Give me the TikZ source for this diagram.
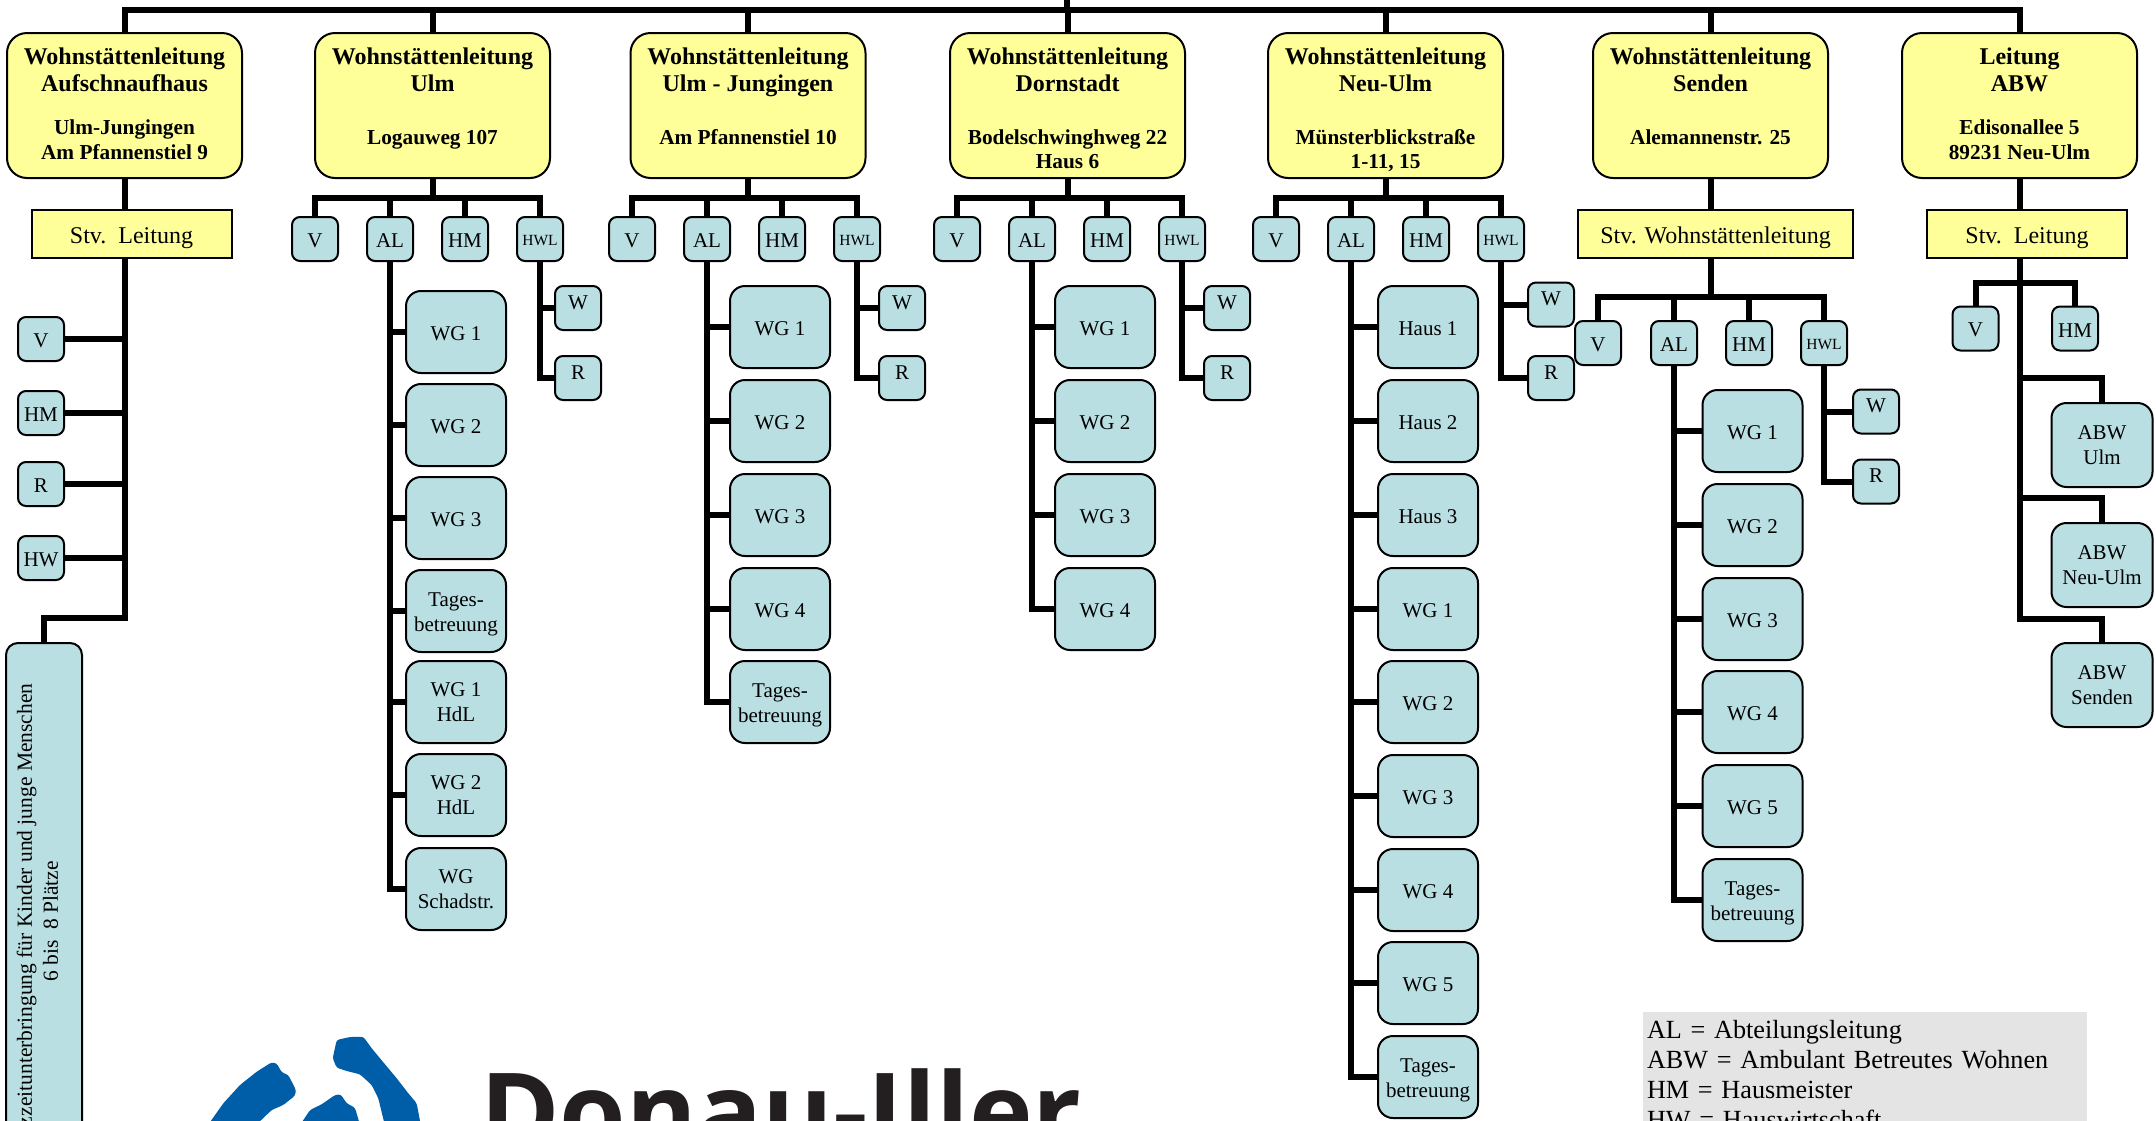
\documentclass[tikz,border=0pt]{standalone}
\usepackage{fontspec}
\setmainfont{Liberation Serif}
\newfontfamily\logofont{Open Sans}
\definecolor{topyellow}{HTML}{FFFF99}
\definecolor{boxblue}{HTML}{BADFE3}
\definecolor{legendgray}{HTML}{E4E4E4}
\definecolor{logoblue}{HTML}{005EA8}
\definecolor{logodark}{HTML}{231F20}
\pgfdeclarelayer{bg}
\pgfsetlayers{bg,main}
\tikzset{
  conn/.style={draw=black,line width=6pt,line cap=rect,line join=miter},
  topbox/.style={draw=black,fill=topyellow,line width=2pt,rounded corners=20pt,minimum width=235pt,minimum height=145pt,inner sep=0pt,outer sep=0pt},
  stvbox/.style={draw=black,fill=topyellow,line width=2pt,minimum height=48pt,inner sep=0pt,outer sep=0pt,font=\fontsize{24}{27}\selectfont,execute at begin node={\rule{0pt}{24pt}}},
  smallbox/.style={draw=black,fill=boxblue,line width=2pt,rounded corners=8pt,minimum width=46pt,minimum height=44pt,inner sep=0pt,outer sep=0pt,font=\fontsize{21}{25}\selectfont,execute at begin node={\rule{0pt}{17pt}}},
  tinytext/.style={font=\fontsize{15.5}{18}\selectfont,execute at begin node={}},
  wgbox/.style={draw=black,fill=boxblue,line width=2pt,rounded corners=15pt,minimum width=100pt,minimum height=82pt,inner sep=0pt,outer sep=0pt,align=center,font=\fontsize{21}{25}\selectfont,execute at begin node={\rule{0pt}{17pt}}},
  abwbox/.style={wgbox,minimum width=101pt,minimum height=84pt,execute at begin node={}},
  legendbox/.style={fill=legendgray,anchor=north west,text width=436pt,inner xsep=4pt,inner ysep=8pt,outer sep=0pt,align=left,font=\fontsize{26.2}{30}\selectfont},
  logotext/.style={anchor=base west,inner sep=0pt,text=logodark,font=\logofont\bfseries\fontsize{107.7}{110}\selectfont},
  logoshape/.style={fill=logoblue,rounded corners=2.5pt}
}
% title, gap, baseline skip of the address, address
\newcommand{\toplabel}[4]{\parbox[c][145pt][t]{230pt}{\centering\bfseries\vspace*{15.3pt}\fontsize{24}{27}\selectfont #1\par\vspace{#2}\fontsize{21.3}{#3}\selectfont #4\par}}
\newcommand{\up}[1]{\raisebox{7.5pt}[0pt]{#1}}
\newcommand{\tagesname}{\rule{0pt}{20pt}Tages-\\betreuung}
\begin{document}
\begin{tikzpicture}[x=1pt,y=-1pt]
\useasboundingbox (0,0) rectangle (2156,1120);
\clip (0,0) rectangle (2156,1120);
% leadership boxes
\node[topbox] (t1) at (124.5,105.5) {\toplabel{Wohnstättenleitung\\Aufschnaufhaus}{18pt}{25}{Ulm-Jungingen\\Am Pfannenstiel 9}};
\node[topbox] (t2) at (432.5,105.5) {\toplabel{Wohnstättenleitung\\Ulm}{29pt}{24}{Logauweg 107}};
\node[topbox] (t3) at (748,105.5) {\toplabel{Wohnstättenleitung\\Ulm - Jungingen}{29pt}{24}{Am Pfannenstiel 10}};
\node[topbox] (t4) at (1067.5,105.5) {\toplabel{Wohnstättenleitung\\Dornstadt}{29pt}{24}{Bodelschwinghweg 22\\Haus 6}};
\node[topbox] (t5) at (1385.5,105.5) {\toplabel{Wohnstättenleitung\\Neu-Ulm}{29pt}{24}{Münsterblickstraße\\1-11, 15}};
\node[topbox] (t6) at (1710.5,105.5) {\toplabel{Wohnstättenleitung\\Senden}{29pt}{24}{Alemannenstr. 25}};
\node[topbox] (t7) at (2019.5,105.5) {\toplabel{Leitung\\ABW}{18pt}{25}{Edisonallee 5\\89231 Neu-Ulm}};
% deputies
\node[stvbox,minimum width=200pt] (s1) at (131.5,234) {Stv.~~Leitung};
\node[stvbox,minimum width=275pt] (s6) at (1715.5,234) {Stv. Wohnstättenleitung};
\node[stvbox,minimum width=200pt] (s7) at (2027,234) {Stv.~~Leitung};
% left column
\node[smallbox] (lV) at (41,339) {V};
\node[smallbox] (lHM) at (41,413) {HM};
\node[smallbox] (lR) at (41,484) {R};
\node[smallbox] (lHW) at (41,558) {HW};
\node[wgbox,rounded corners=12pt,minimum width=76pt,minimum height=557pt,execute at begin node={},font=\fontsize{21.5}{25}\selectfont] (kz) at (44,921.5) {\rotatebox{90}{\parbox{520pt}{\centering Kurzzeitunterbringung für Kinder und junge Menschen\\[1pt] 6 bis~~8 Plätze\vspace{13pt}}}};
% columns of small boxes
\foreach \c/\v/\a/\h/\w/\wx/\wy/\ry/\cy in {2/315/390/465/540/578/308/378/239,3/632/707/782/857/902/308/378/239,4/957/1032/1107/1182/1227/308/378/239,5/1276/1351/1426/1501/1551/304.5/378/239,6/1598/1674/1749/1824/1876/411.5/481.5/343}{
  \node[smallbox] (c\c V) at (\v,\cy) {V};
  \node[smallbox] (c\c AL) at (\a,\cy) {AL};
  \node[smallbox] (c\c HM) at (\h,\cy) {HM};
  \node[smallbox,tinytext] (c\c HWL) at (\w,\cy) {\raisebox{2pt}[10.5pt]{HWL}};
  \node[smallbox] (c\c W) at (\wx,\wy) {\up{W}};
  \node[smallbox] (c\c R) at (\wx,\ry) {\up{R}};
}
% Ulm
\node[wgbox] (c2a) at (456,332) {WG 1};
\node[wgbox] (c2b) at (456,425) {WG 2};
\node[wgbox] (c2c) at (456,518) {WG 3};
\node[wgbox] (c2d) at (456,611) {\tagesname};
\node[wgbox] (c2e) at (456,702) {WG 1\\HdL};
\node[wgbox] (c2f) at (456,795) {WG 2\\HdL};
\node[wgbox] (c2g) at (456,889) {WG\\Schadstr.};
% Ulm - Jungingen
\node[wgbox] (c3a) at (780,327) {WG 1};
\node[wgbox] (c3b) at (780,421) {WG 2};
\node[wgbox] (c3c) at (780,515) {WG 3};
\node[wgbox] (c3d) at (780,609) {WG 4};
\node[wgbox] (c3e) at (780,702) {\tagesname};
% Dornstadt
\node[wgbox] (c4a) at (1105,327) {WG 1};
\node[wgbox] (c4b) at (1105,421) {WG 2};
\node[wgbox] (c4c) at (1105,515) {WG 3};
\node[wgbox] (c4d) at (1105,609) {WG 4};
% Neu-Ulm
\node[wgbox] (c5a) at (1428,327) {Haus 1};
\node[wgbox] (c5b) at (1428,421) {Haus 2};
\node[wgbox] (c5c) at (1428,515) {Haus 3};
\node[wgbox] (c5d) at (1428,609) {WG 1};
\node[wgbox] (c5e) at (1428,702) {WG 2};
\node[wgbox] (c5f) at (1428,796) {WG 3};
\node[wgbox] (c5g) at (1428,890) {WG 4};
\node[wgbox] (c5h) at (1428,983) {WG 5};
\node[wgbox] (c5i) at (1428,1077) {\tagesname};
% Senden
\node[wgbox] (c6a) at (1752.5,431) {WG 1};
\node[wgbox] (c6b) at (1752.5,525) {WG 2};
\node[wgbox] (c6c) at (1752.5,619) {WG 3};
\node[wgbox] (c6d) at (1752.5,712) {WG 4};
\node[wgbox] (c6e) at (1752.5,806) {WG 5};
\node[wgbox] (c6f) at (1752.5,900) {\tagesname};
% ABW
\node[smallbox] (c7V) at (1975.5,328.5) {V};
\node[smallbox] (c7HM) at (2075,328.5) {HM};
\node[abwbox] (c7a) at (2102,445) {ABW\\Ulm};
\node[abwbox] (c7b) at (2102,565) {ABW\\Neu-Ulm};
\node[abwbox] (c7c) at (2102,685) {ABW\\Senden};
% legend
\node[legendbox] (legend) at (1643,1012) {AL = Abteilungsleitung\\ABW = Ambulant Betreutes Wohnen\\HM = Hausmeister\\HW = Hauswirtschaft};
% logo
\fill[logoshape] (336.7,1040) -- (350,1037) -- (363.3,1036.7) -- (371.7,1048.3) -- (380,1058.3) -- (396.7,1078.3) -- (408.3,1093.3) -- (416.7,1103.3) -- (421.7,1130) -- (386,1130) -- (378.3,1098.3) -- (371.7,1085) -- (360,1074.3) -- (346.7,1071) -- (336.7,1067.7) -- (332.7,1058.3) -- cycle;
\fill[logoshape] (271.7,1062.3) -- (276.7,1063.3) -- (281.7,1072.3) -- (288.3,1075) -- (296,1090) -- (295,1095.7) -- (283.3,1105) -- (271.7,1110) -- (256,1125) -- (208,1125) -- (223.3,1103.3) -- (240,1085) -- (256.7,1071.7) -- cycle;
\fill[logoshape] (300,1125) -- (310,1110) -- (321.7,1104.3) -- (335,1095) -- (340.7,1094.3) -- (346.7,1103.3) -- (355,1107.7) -- (360,1125) -- cycle;
\node[logotext] (logoname) at (480,1150) {Donau-Iller};
% connectors
\begin{pgfonlayer}{bg}
\coordinate (root) at (1067,0);
\coordinate (bar) at (1067,10);
\draw[conn] (t1.north) |- (bar) -| (t7.north);
\draw[conn] (root) -- (bar);
\foreach \n in {2,...,6} {\draw[conn] (t\n.north) -- (t\n.north |- bar);}
% left column
\coordinate (k1) at (124.5,618);
\draw[conn] (t1.south) -- (k1) -| (kz.north);
\foreach \n in {lV,lHM,lR,lHW} {\draw[conn] (\n.east) -- (\n.east -| k1);}
% columns with four small boxes
\foreach \c/\by in {2/198,3/198,4/198,5/198,6/297}{
  \coordinate (bus\c) at (t\c.south |- 0,\by);
  \draw[conn] (t\c.south) -- (bus\c);
  \draw[conn] (c\c V.north) |- (bus\c) -| (c\c HWL.north);
  \draw[conn] (c\c AL.north) -- (c\c AL.north |- bus\c);
  \draw[conn] (c\c HM.north) -- (c\c HM.north |- bus\c);
  \draw[conn] (c\c HWL.south) |- (c\c R.west);
  \draw[conn] (c\c W.west) -- (c\c W.west -| c\c HWL.south);
}
\foreach \n in {a,...,f} {\draw[conn] (c2\n.west) -- (c2\n.west -| c2AL.south);}
\draw[conn] (c2AL.south) |- (c2g.west);
\foreach \n in {a,...,d} {\draw[conn] (c3\n.west) -- (c3\n.west -| c3AL.south);}
\draw[conn] (c3AL.south) |- (c3e.west);
\foreach \n in {a,...,c} {\draw[conn] (c4\n.west) -- (c4\n.west -| c4AL.south);}
\draw[conn] (c4AL.south) |- (c4d.west);
\foreach \n in {a,...,h} {\draw[conn] (c5\n.west) -- (c5\n.west -| c5AL.south);}
\draw[conn] (c5AL.south) |- (c5i.west);
\foreach \n in {a,...,e} {\draw[conn] (c6\n.west) -- (c6\n.west -| c6AL.south);}
\draw[conn] (c6AL.south) |- (c6f.west);
% ABW
\coordinate (bus7) at (t7.south |- 0,283);
\coordinate (k7) at (t7.south |- 0,619);
\draw[conn] (t7.south) -- (k7) -| (c7c.north);
\draw[conn] (c7V.north) |- (bus7) -| (c7HM.north);
\coordinate (k7a) at (t7.south |- 0,378);
\coordinate (k7b) at (t7.south |- 0,498);
\draw[conn] (k7a) -| (c7a.north);
\draw[conn] (k7b) -| (c7b.north);
\end{pgfonlayer}
\end{tikzpicture}
\end{document}
